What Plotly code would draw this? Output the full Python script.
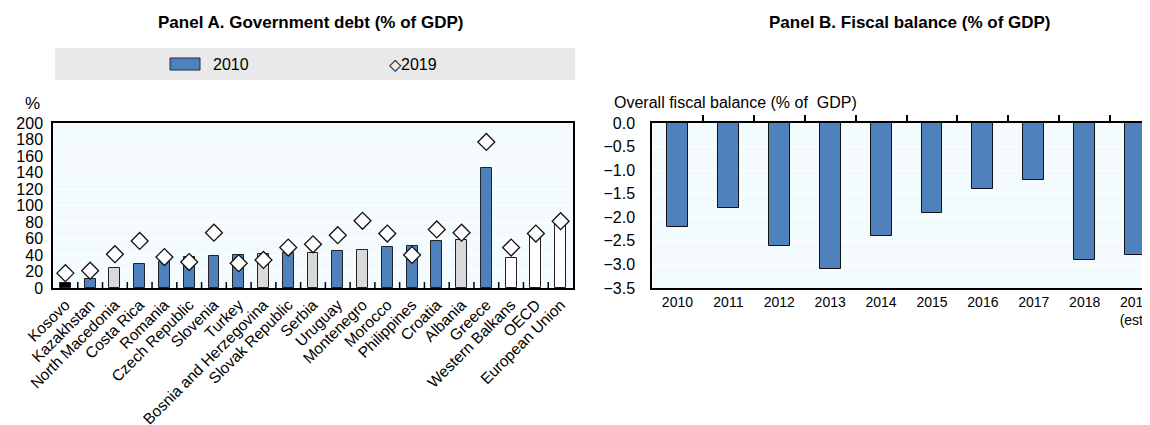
import plotly.graph_objects as go

# Panel A: government debt, % of GDP
countries = ["Kosovo", "Kazakhstan", "North Macedonia", "Costa Rica", "Romania",
             "Czech Republic", "Slovenia", "Turkey", "Bosnia and Herzegovina",
             "Slovak Republic", "Serbia", "Uruguay", "Montenegro", "Morocco",
             "Philippines", "Croatia", "Albania", "Greece", "Western Balkans",
             "OECD", "European Union"]
debt_2010 = [6.5, 11, 24, 29, 31, 37, 38.5, 40.5, 41, 42, 42, 44.5, 45.5, 49.5,
             50.5, 57.5, 58, 146, 36.5, 65, 79]
debt_2019 = [18, 21, 41, 57, 37.5, 31.5, 67, 30, 34, 49, 53, 64, 81.5, 66,
             40, 71, 67, 177, 49, 66, 81]
# bar kind: kosovo / other economy / western balkan peer / aggregate
bar_kind = ["kosovo", "blue", "grey", "blue", "blue", "blue", "blue", "blue", "grey",
            "blue", "grey", "blue", "grey", "blue", "blue", "blue", "grey", "blue",
            "agg", "agg", "agg"]

# Panel B: overall fiscal balance, % of GDP
years = ["2010", "2011", "2012", "2013", "2014", "2015", "2016", "2017", "2018",
         "2019<br>(est.)"]
balance = [-2.2, -1.8, -2.6, -3.1, -2.4, -1.9, -1.4, -1.2, -2.9, -2.8]

BLUE = "#4f81bd"
kind_colors = {"kosovo": "#000000", "blue": BLUE, "grey": "#d9d9d9", "agg": "#ffffff"}
BG = "#f3fbfe"
FONT = "Liberation Sans, Arial, sans-serif"

W, H = 1150, 425
OFF = 8  # page body margin


def px_x(p):
    return (p - OFF) / W


def px_y(p):
    return 1 - (p - OFF) / H


fig = go.Figure()

xa = list(range(len(countries)))
fig.add_trace(go.Bar(
    x=xa, y=debt_2010, width=0.44,
    marker=dict(color=[kind_colors[k] for k in bar_kind],
                line=dict(color="#222222", width=1)),
    xaxis="x", yaxis="y", showlegend=False, name="2010"
))
fig.add_trace(go.Scatter(
    x=xa, y=debt_2019, mode="markers",
    marker=dict(symbol="diamond", size=13, color="white",
                line=dict(color="#111111", width=1.3)),
    xaxis="x", yaxis="y", showlegend=False, name="2019", cliponaxis=False
))

xb = list(range(len(years)))
fig.add_trace(go.Bar(
    x=xb, y=balance, width=0.41,
    marker=dict(color=BLUE, line=dict(color="#111111", width=1)),
    xaxis="x2", yaxis="y2", showlegend=False
))

# empty trace so the top tick axis of panel B gets drawn
fig.add_trace(go.Scatter(x=[None], y=[None], xaxis="x3", yaxis="y2",
                         showlegend=False, hoverinfo="skip"))

RANGE_A = [-0.5, len(countries) - 0.5]
RANGE_B = [-0.5, 9.44]

fig.update_layout(
    width=W, height=H,
    margin=dict(l=0, r=0, t=0, b=0),
    paper_bgcolor="white",
    plot_bgcolor=BG,
    bargap=0,
    font=dict(family=FONT, color="#000000"),
    xaxis=dict(
        domain=[px_x(53), px_x(573)], anchor="y", range=RANGE_A,
        tickmode="array", tickvals=xa, ticktext=countries,
        tickangle=-45, ticks="", tickfont=dict(family=FONT, size=15.5),
        showline=True, linecolor="#000000", linewidth=1.5, mirror=True,
        showgrid=False, zeroline=False, automargin=False,
    ),
    yaxis=dict(
        domain=[px_y(288), px_y(123)], anchor="x",
        range=[0, 200], dtick=20, ticks="", ticklabelstandoff=5,
        tickfont=dict(family=FONT, size=16),
        showline=True, linecolor="#000000", linewidth=1.5, mirror=True,
        showgrid=True, gridcolor="#ffffff", zeroline=False, automargin=False,
    ),
    xaxis2=dict(
        domain=[px_x(652), 1.0], anchor="y2", range=RANGE_B,
        tickmode="array", tickvals=xb, ticktext=years, ticks="",
        tickfont=dict(family=FONT, size=14), tickangle=0,
        ticklabeloverflow="allow",
        showline=True, linecolor="#000000", linewidth=1.5,
        showgrid=False, zeroline=False, automargin=False,
    ),
    xaxis3=dict(
        domain=[px_x(652), 1.0], anchor="y2", overlaying="x2", side="top",
        range=RANGE_B,
        tickmode="array", tickvals=[i + 0.5 for i in xb[:-1]], ticks="outside",
        ticklen=6, tickwidth=1.5, tickcolor="#000000", showticklabels=False,
        showline=True, linecolor="#000000", linewidth=1.5,
        showgrid=False, zeroline=False, automargin=False,
    ),
    yaxis2=dict(
        domain=[px_y(288), px_y(123)], anchor="x2",
        range=[-3.5, 0], dtick=0.5, tickformat=".1f", ticks="",
        ticklabelstandoff=12, tickfont=dict(family=FONT, size=16),
        showline=True, linecolor="#000000", linewidth=1.5,
        showgrid=True, gridcolor="#ffffff", zeroline=False, automargin=False,
    ),
)

# separator ticks between the panel A categories, pointing up from the axis
for i in xa[:-1]:
    fig.add_shape(type="line", xref="x", yref="y domain",
                  x0=i + 0.5, x1=i + 0.5, y0=0, y1=0.036,
                  line=dict(color="#000000", width=1.5), layer="above")

# legend band for panel A
fig.add_shape(type="rect", xref="paper", yref="paper",
              x0=px_x(55), x1=px_x(575), y0=px_y(80), y1=px_y(48),
              fillcolor="#e9e9e9", line=dict(width=0), layer="below")
fig.add_shape(type="rect", xref="paper", yref="paper",
              x0=px_x(170), x1=px_x(200), y0=px_y(70), y1=px_y(58),
              fillcolor=BLUE, line=dict(color="#1f2f4f", width=1))

annotations = [
    dict(text="<b>Panel A. Government debt (% of GDP)</b>", x=px_x(310), y=px_y(23),
         font=dict(family=FONT, size=17)),
    dict(text="<b>Panel B. Fiscal balance (% of GDP)</b>", x=px_x(910), y=px_y(23),
         font=dict(family=FONT, size=17)),
    dict(text="2010", x=px_x(211), y=px_y(64), xanchor="left",
         font=dict(family=FONT, size=16)),
    dict(text="\u25c72019", x=px_x(387), y=px_y(64), xanchor="left",
         font=dict(family=FONT, size=16)),
    dict(text="%", x=px_x(32), y=px_y(104), font=dict(family=FONT, size=17)),
    dict(text="Overall fiscal balance (% of  GDP)", x=px_x(612), y=px_y(103),
         xanchor="left", font=dict(family=FONT, size=16)),
]
for a in annotations:
    a.update(xref="paper", yref="paper", showarrow=False,
             yanchor=a.get("yanchor", "middle"), xanchor=a.get("xanchor", "center"))
    fig.add_annotation(**a)

fig.write_html("out.html")
